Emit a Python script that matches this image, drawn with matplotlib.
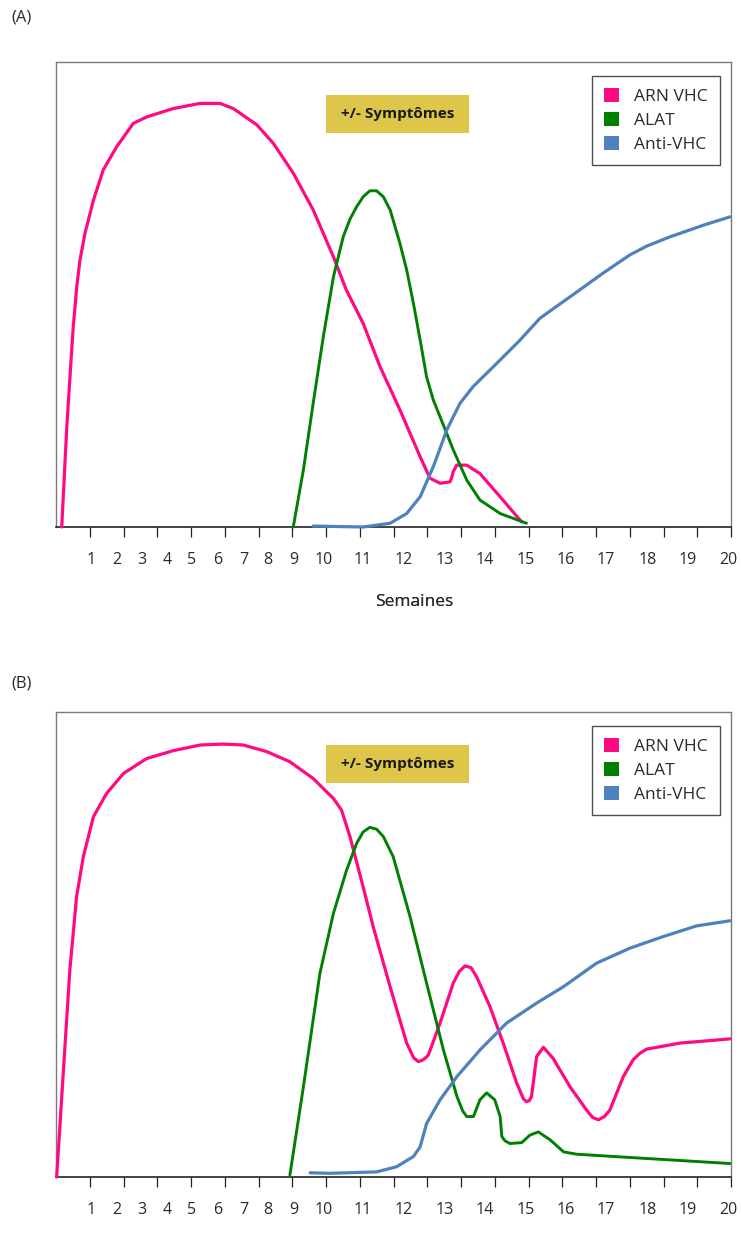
import matplotlib
matplotlib.use("Agg")
import matplotlib.pyplot as plt
from matplotlib.patches import Patch, Rectangle

# ---------------- data (x in axis units: ticks evenly at 1..20, y in % of axis height)
TICK_POS = list(range(1, 21))
TICK_LABELS = [str(i) for i in range(1, 21)]
LABEL_POS = [1.05, 1.81, 2.54, 3.29, 4.03, 4.79, 5.55, 6.29, 7.04, 7.94,
             9.10, 10.29, 11.51, 12.70, 13.91, 15.10, 16.30, 17.52, 18.73, 19.92]

SERIES_NAMES = ["ARN VHC", "ALAT", "Anti-VHC"]

# Panel A
arn_a_x = [0.17, 0.32, 0.51, 0.62, 0.71, 0.86, 1.11, 1.40, 1.80, 2.29, 2.69, 3.48, 4.27, 4.86,
           5.25, 5.95, 6.44, 7.03, 7.62, 8.22, 8.60, 9.10, 9.60, 10.19, 10.79, 11.08,
           11.38, 11.67, 11.72, 11.77, 11.87, 12.17, 12.56, 13.16, 13.70, 13.80]
arn_a_y = [0.0, 21.6, 43.0, 52.0, 57.4, 63.2, 70.3, 76.8, 81.8, 86.8, 88.2, 90.0, 91.1, 91.1,
           90.0, 86.5, 82.5, 76.1, 68.2, 58.1, 51.0, 43.8, 34.5, 25.2, 15.1, 10.5,
           9.4, 9.7, 10.5, 11.9, 13.3, 13.3, 11.5, 6.5, 1.9, 1.1]

alat_a_x = [7.03, 7.33, 7.62, 7.92, 8.22, 8.51, 8.71, 8.91, 9.10, 9.30, 9.50, 9.70, 9.90,
            10.19, 10.39, 10.59, 10.79, 10.98, 11.18, 11.38, 11.77, 12.17, 12.56, 13.16, 13.94]
alat_a_y = [0.0, 12.3, 26.6, 40.9, 53.8, 62.4, 66.2, 68.9, 71.0, 72.3, 72.3, 71.0, 68.2,
            61.0, 55.3, 48.1, 40.2, 32.3, 27.3, 23.7, 16.6, 10.1, 5.8, 2.9, 0.8]

anti_a_x = [7.62, 9.10, 9.90, 10.39, 10.79, 11.18, 11.38, 11.58, 11.97, 12.36, 13.06, 13.75,
            14.34, 15.23, 16.21, 17.00, 17.50, 18.19, 19.18, 19.97]
anti_a_y = [0.2, 0.0, 0.8, 2.9, 6.5, 13.0, 16.9, 20.9, 26.6, 30.2, 35.2, 40.2,
            44.9, 49.5, 54.6, 58.5, 60.4, 62.4, 64.9, 66.7]

# Panel B
arn_b_x = [0.02, 0.22, 0.41, 0.61, 0.81, 1.11, 1.50, 2.00, 2.69, 3.48, 4.27, 4.96, 5.55,
           6.24, 6.93, 7.62, 8.22, 8.46, 8.71, 9.10, 9.40, 9.90, 10.39, 10.60, 10.74,
           10.88, 11.03, 11.38, 11.77, 11.95, 12.12, 12.30, 12.46, 12.86, 13.25, 13.65,
           13.85, 13.94, 14.02, 14.09, 14.24, 14.44, 14.73, 15.23, 15.72, 15.90, 16.07,
           16.25, 16.41, 16.81, 17.10, 17.30, 17.50, 18.49, 19.97]
arn_b_y = [0.0, 23.0, 44.5, 60.3, 68.9, 77.5, 82.5, 86.8, 90.0, 91.7, 92.9, 93.1, 92.9,
           91.5, 89.3, 85.7, 81.4, 78.9, 73.2, 62.4, 53.8, 40.9, 28.8, 25.6, 24.8,
           25.2, 26.2, 33.1, 41.7, 44.2, 45.4, 45.0, 43.1, 36.6, 28.8, 20.2,
           16.8, 16.2, 16.4, 17.3, 25.9, 27.9, 25.5, 19.4, 14.4, 12.8, 12.3,
           13.0, 14.4, 21.6, 25.2, 26.6, 27.5, 28.8, 29.7]

alat_b_x = [6.93, 7.33, 7.82, 8.22, 8.61, 8.91, 9.10, 9.30, 9.50, 9.70, 9.99, 10.49, 10.98,
            11.48, 11.88, 12.05, 12.17, 12.37, 12.56, 12.76, 13.00, 13.16, 13.21, 13.30,
            13.45, 13.80, 14.04, 14.29, 14.64, 15.04, 15.43, 17.00, 19.97]
alat_b_y = [0.4, 19.4, 43.8, 56.7, 66.0, 71.8, 74.2, 75.2, 74.8, 73.2, 68.9, 56.0, 41.7,
            27.3, 17.3, 14.2, 13.0, 13.0, 16.6, 18.1, 16.6, 13.0, 8.7, 7.8,
            7.2, 7.4, 9.0, 9.7, 8.0, 5.4, 4.9, 4.2, 2.9]

anti_b_x = [7.53, 8.12, 9.50, 10.09, 10.59, 10.79, 10.98, 11.38, 11.88, 12.56, 13.35,
            14.24, 15.03, 16.02, 17.00, 17.99, 18.98, 19.97]
anti_b_y = [0.9, 0.8, 1.1, 2.2, 4.4, 6.5, 11.5, 16.6, 21.6, 27.3, 33.1,
            37.4, 40.9, 46.0, 49.2, 51.7, 54.0, 55.1]

PANELS = [
    ("(A)", [(arn_a_x, arn_a_y), (alat_a_x, alat_a_y), (anti_a_x, anti_a_y)]),
    ("(B)", [(arn_b_x, arn_b_y), (alat_b_x, alat_b_y), (anti_b_x, anti_b_y)]),
]

# ---------------- style
COLORS = ["#FF0A80", "#008000", "#4F81BD"]
WIDTHS = [2.3, 2.1, 2.3]
BOX_COLOR = "#DDC64A"
FONT = ["Open Sans", "DejaVu Sans"]
plt.rcParams["font.family"] = FONT

W, H = 741, 1259
fig = plt.figure(figsize=(W / 100, H / 100), dpi=100)

ax_boxes = [(56, 62, 731, 527), (56, 712, 731, 1177)]  # pixel frames (l, t, r, b)
label_pix = [18, 683]

for (tag, series), (l, t, r, b), ly in zip(PANELS, ax_boxes, label_pix):
    ax = fig.add_axes([l / W, 1 - b / H, (r - l) / W, (b - t) / H])
    ax.set_xlim(0, 20)
    ax.set_ylim(0, 100)
    for (xs, ys), c, lw in zip(series, COLORS, WIDTHS):
        ax.plot(xs, ys, color=c, lw=lw, solid_joinstyle="round",
                solid_capstyle="round", clip_on=False, zorder=3)

    for side in ["left", "top", "right"]:
        ax.spines[side].set_color("#7a7a7a")
        ax.spines[side].set_linewidth(1.0)
    ax.spines["bottom"].set_color("#222222")
    ax.spines["bottom"].set_linewidth(1.2)

    ax.set_yticks([])
    ax.set_xticks(TICK_POS)
    ax.set_xticklabels([])
    ax.tick_params(axis="x", which="major", direction="out", length=7.5,
                   width=0.9, color="#222222")
    ax.set_xticks(LABEL_POS, minor=True)
    ax.set_xticklabels(TICK_LABELS, minor=True)
    ax.tick_params(axis="x", which="minor", length=0, pad=18, labelsize=11.5,
                   labelcolor="#2a2a2a")

    ax.text((414 - l) / (r - l), (b - 602) / (b - t), "Semaines",
            transform=ax.transAxes, ha="center", va="center", fontsize=12.5,
            color="#2a2a2a")

    fig.text(11 / W, 1 - ly / H, tag, ha="left", va="center", fontsize=12,
             color="#2a2a2a")

    # symptom box
    bx0, by0, bx1, by1 = 326, t + 33, 469, t + 71
    ax.add_patch(Rectangle(((bx0 - l) / (r - l), (b - by1) / (b - t)),
                           (bx1 - bx0) / (r - l), (by1 - by0) / (b - t),
                           transform=ax.transAxes, facecolor=BOX_COLOR,
                           edgecolor="none", zorder=4))
    ax.text(((bx0 + bx1) / 2 - l) / (r - l), (b - (by0 + by1) / 2) / (b - t),
            "+/- Symptômes", transform=ax.transAxes, ha="center", va="center",
            fontsize=11, fontweight="bold", color="#1a1a1a", zorder=5)

    handles = [Patch(facecolor=c, edgecolor="none") for c in COLORS]
    leg = ax.legend(handles, SERIES_NAMES, loc="upper right",
                    bbox_to_anchor=((720 - l) / (r - l), (b - (t + 14)) / (b - t)),
                    borderaxespad=0, fontsize=12.5, frameon=True, fancybox=False,
                    handlelength=0.85, handleheight=0.85, handletextpad=0.9,
                    labelspacing=0.4, borderpad=0.7)
    leg.get_frame().set_edgecolor("#222222")
    leg.get_frame().set_linewidth(1.0)
    for txt in leg.get_texts():
        txt.set_color("#2a2a2a")

fig.savefig("out.png", dpi=100)
